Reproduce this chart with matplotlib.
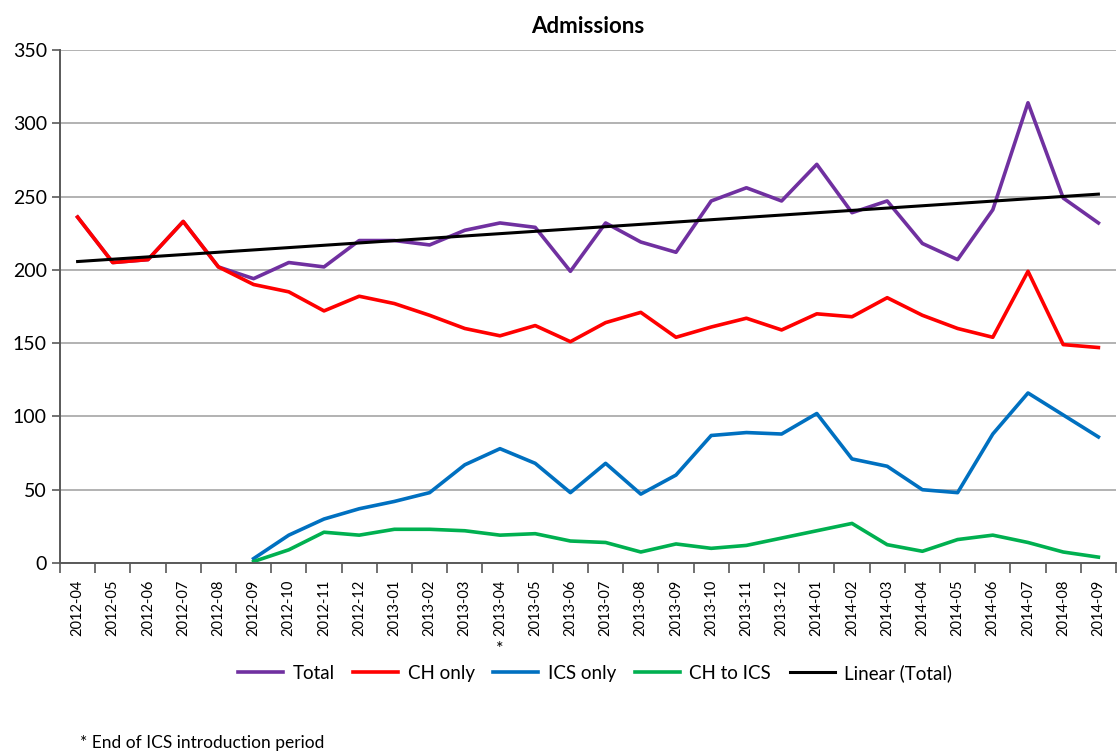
import numpy as np
import matplotlib.pyplot as plt
import matplotlib.transforms as mtransforms

plt.rcParams["font.family"] = ["Lato", "DejaVu Sans"]

# Monthly admissions data
months = [
    "2012-04", "2012-05", "2012-06", "2012-07", "2012-08", "2012-09",
    "2012-10", "2012-11", "2012-12", "2013-01", "2013-02", "2013-03",
    "2013-04", "2013-05", "2013-06", "2013-07", "2013-08", "2013-09",
    "2013-10", "2013-11", "2013-12", "2014-01", "2014-02", "2014-03",
    "2014-04", "2014-05", "2014-06", "2014-07", "2014-08", "2014-09",
]
total = [236, 205, 207, 233, 202, 194, 205, 202, 220, 220, 217, 227,
         232, 229, 199, 232, 219, 212, 247, 256, 247, 272, 239, 247,
         218, 207, 241, 314, 249, 232]
ch_only = [236, 205, 207, 233, 202, 190, 185, 172, 182, 177, 169, 160,
           155, 162, 151, 164, 171, 154, 161, 167, 159, 170, 168, 181,
           169, 160, 154, 199, 149, 147]
ics_only = [None] * 5 + [3, 19, 30, 37, 42, 48, 67, 78, 68, 48, 68, 47,
                         60, 87, 89, 88, 102, 71, 66, 50, 48, 88, 116, 101, 86]
ch_to_ics = [None] * 5 + [1, 9, 21, 19, 23, 23, 22, 19, 20, 15, 14, 7.5,
                          13, 10, 12, 17, 22, 27, 12.5, 8, 16, 19, 14, 7.5, 4]

x = np.arange(len(months))
ics_arr = np.array([np.nan if v is None else v for v in ics_only], dtype=float)
cti_arr = np.array([np.nan if v is None else v for v in ch_to_ics], dtype=float)

# linear trend of total
coef = np.polyfit(x, total, 1)
trend = np.polyval(coef, x)

fig = plt.figure(figsize=(11.18, 7.51), dpi=100)
ax = fig.add_axes([60 / 1118, 1 - 563 / 751, 1 - 62 / 1118, 513 / 751])

lw = 2.6
ax.plot(x, total, color="#7030A0", lw=lw, label="Total")
ax.plot(x, ch_only, color="#FF0000", lw=lw, label="CH only")
ax.plot(x, ics_arr, color="#0070C0", lw=lw, label="ICS only")
ax.plot(x, cti_arr, color="#00B050", lw=lw, label="CH to ICS")
ax.plot(x, trend, color="black", lw=2.2, label="Linear (Total)")

ax.set_xlim(-0.5, len(months) - 0.5)
ax.set_ylim(0, 350)
ax.set_yticks(range(0, 351, 50))
ax.yaxis.grid(True, color="#A6A6A6", lw=1.2)
ax.set_axisbelow(True)

ax.set_xticks(x)
ax.set_xticklabels(months, rotation=90, fontsize=10.5)
ax.set_xticks(np.arange(-0.5, len(months)), minor=True)
ax.tick_params(axis="x", which="major", length=0, pad=12)
ax.tick_params(axis="x", which="minor", length=7, width=1.2, color="#595959")
ax.tick_params(axis="y", labelsize=14, length=6, width=1.2, color="#595959")

for side in ["top", "right"]:
    ax.spines[side].set_visible(False)
ax.spines["left"].set_color("#595959")
ax.spines["left"].set_linewidth(1.4)
ax.spines["bottom"].set_color("#595959")
ax.spines["bottom"].set_linewidth(1.4)

ax.set_title("Admissions", fontsize=16, fontweight="bold", pad=12)

# marker for end of ICS introduction period
trans = mtransforms.blended_transform_factory(ax.transData, fig.transFigure)
ax.text(months.index("2013-04"), 1 - 641 / 751, "*", transform=trans,
        ha="center", va="top", fontsize=13)

fig.legend(loc="center", bbox_to_anchor=(595 / 1118, 1 - 673 / 751), ncol=5,
           frameon=False, fontsize=13.5, handlelength=2.4, columnspacing=1.0,
           handletextpad=0.5)

fig.text(80 / 1118, 1 - 743 / 751, "* End of ICS introduction period",
         fontsize=12.5, va="center", ha="left")

fig.savefig("out.png", dpi=100)
